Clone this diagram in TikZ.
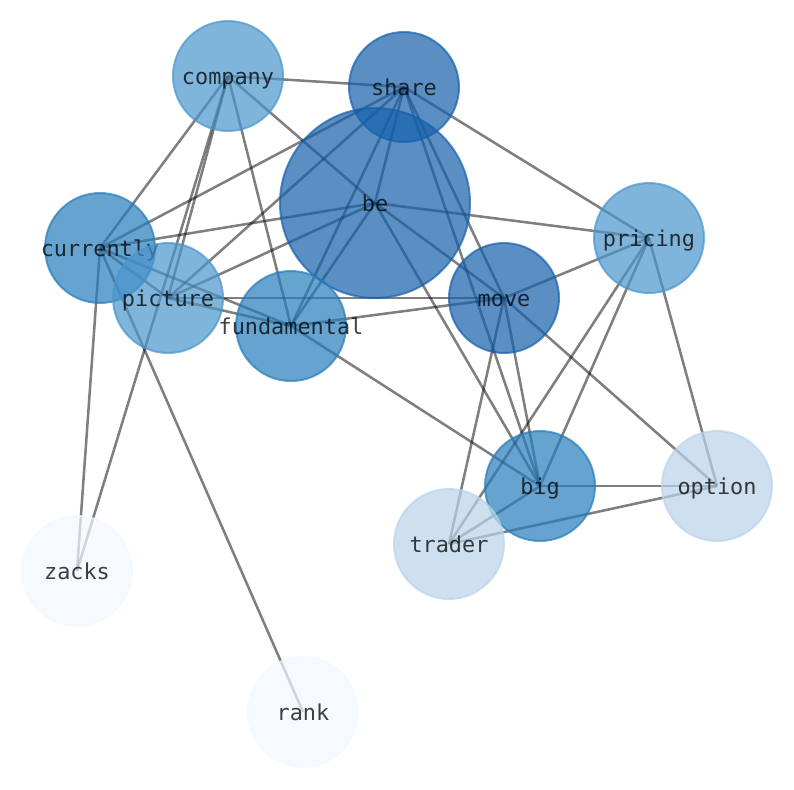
\documentclass[tikz,border=0pt]{standalone}
\usepackage{fontspec}
\setmonofont{DejaVu Sans Mono}
\usetikzlibrary{backgrounds}

\definecolor{degeight}{RGB}{21,96,171}
\definecolor{degseven}{RGB}{39,124,187}
\definecolor{degsix}{RGB}{74,149,204}
\definecolor{degfour}{RGB}{185,211,234}
\definecolor{degone}{RGB}{242,248,255}

% labels do not widen the circles
\newcommand{\lbl}[1]{\makebox[0pt]{#1}}

\begin{document}
\begin{tikzpicture}[x=0.75pt,y=-0.75pt,
    word/.style={circle,minimum size=82.5pt,inner sep=0pt,line width=1.5pt,
        fill opacity=0.7,draw opacity=0.7,text opacity=0.75,
        text height=12pt,text depth=0pt,
        font=\fontsize{16.4}{18}\selectfont\ttfamily},
    link/.style={draw=black,draw opacity=0.5,line width=1.9pt}
]
\useasboundingbox (0,0) rectangle (794,790);

% words, sized and shaded by how many links they have
\node[word,fill=degsix,draw=degsix] (company) at (228,76) {\lbl{company}};
\node[word,fill=degeight,draw=degeight,minimum size=142.5pt] (be) at (375,203) {\lbl{be}};
\node[word,fill=degeight,draw=degeight] (share) at (404,87) {\lbl{share}};
\node[word,fill=degseven,draw=degseven] (currently) at (100,248) {\lbl{currently}};
\node[word,fill=degsix,draw=degsix] (picture) at (168,298) {\lbl{picture}};
\node[word,fill=degseven,draw=degseven] (fundamental) at (291,326) {\lbl{fundamental}};
\node[word,fill=degeight,draw=degeight] (move) at (504,298) {\lbl{move}};
\node[word,fill=degsix,draw=degsix] (pricing) at (649,238) {\lbl{pricing}};
\node[word,fill=degseven,draw=degseven] (big) at (540,486) {\lbl{big}};
\node[word,fill=degfour,draw=degfour] (option) at (717,486) {\lbl{option}};
\node[word,fill=degfour,draw=degfour] (trader) at (449,544) {\lbl{trader}};
\node[word,fill=degone,draw=degone] (zacks) at (77,571) {\lbl{zacks}};
\node[word,fill=degone,draw=degone] (rank) at (303,712) {\lbl{rank}};

\begin{pgfonlayer}{background}
\foreach \a/\b in {company/share, company/be, company/currently, company/picture,
    company/fundamental, company/zacks,
    share/be, share/currently, share/picture, share/fundamental, share/move,
    share/big, share/pricing,
    be/currently, be/picture, be/fundamental, be/move, be/big, be/pricing,
    currently/picture, currently/fundamental, currently/zacks, currently/rank,
    picture/fundamental, picture/move,
    fundamental/move, fundamental/big,
    move/pricing, move/big, move/trader, move/option,
    pricing/big, pricing/trader, pricing/option,
    big/option, big/trader, trader/option}
    \draw[link] (\a.center) -- (\b.center);
\end{pgfonlayer}

\end{tikzpicture}
\end{document}
